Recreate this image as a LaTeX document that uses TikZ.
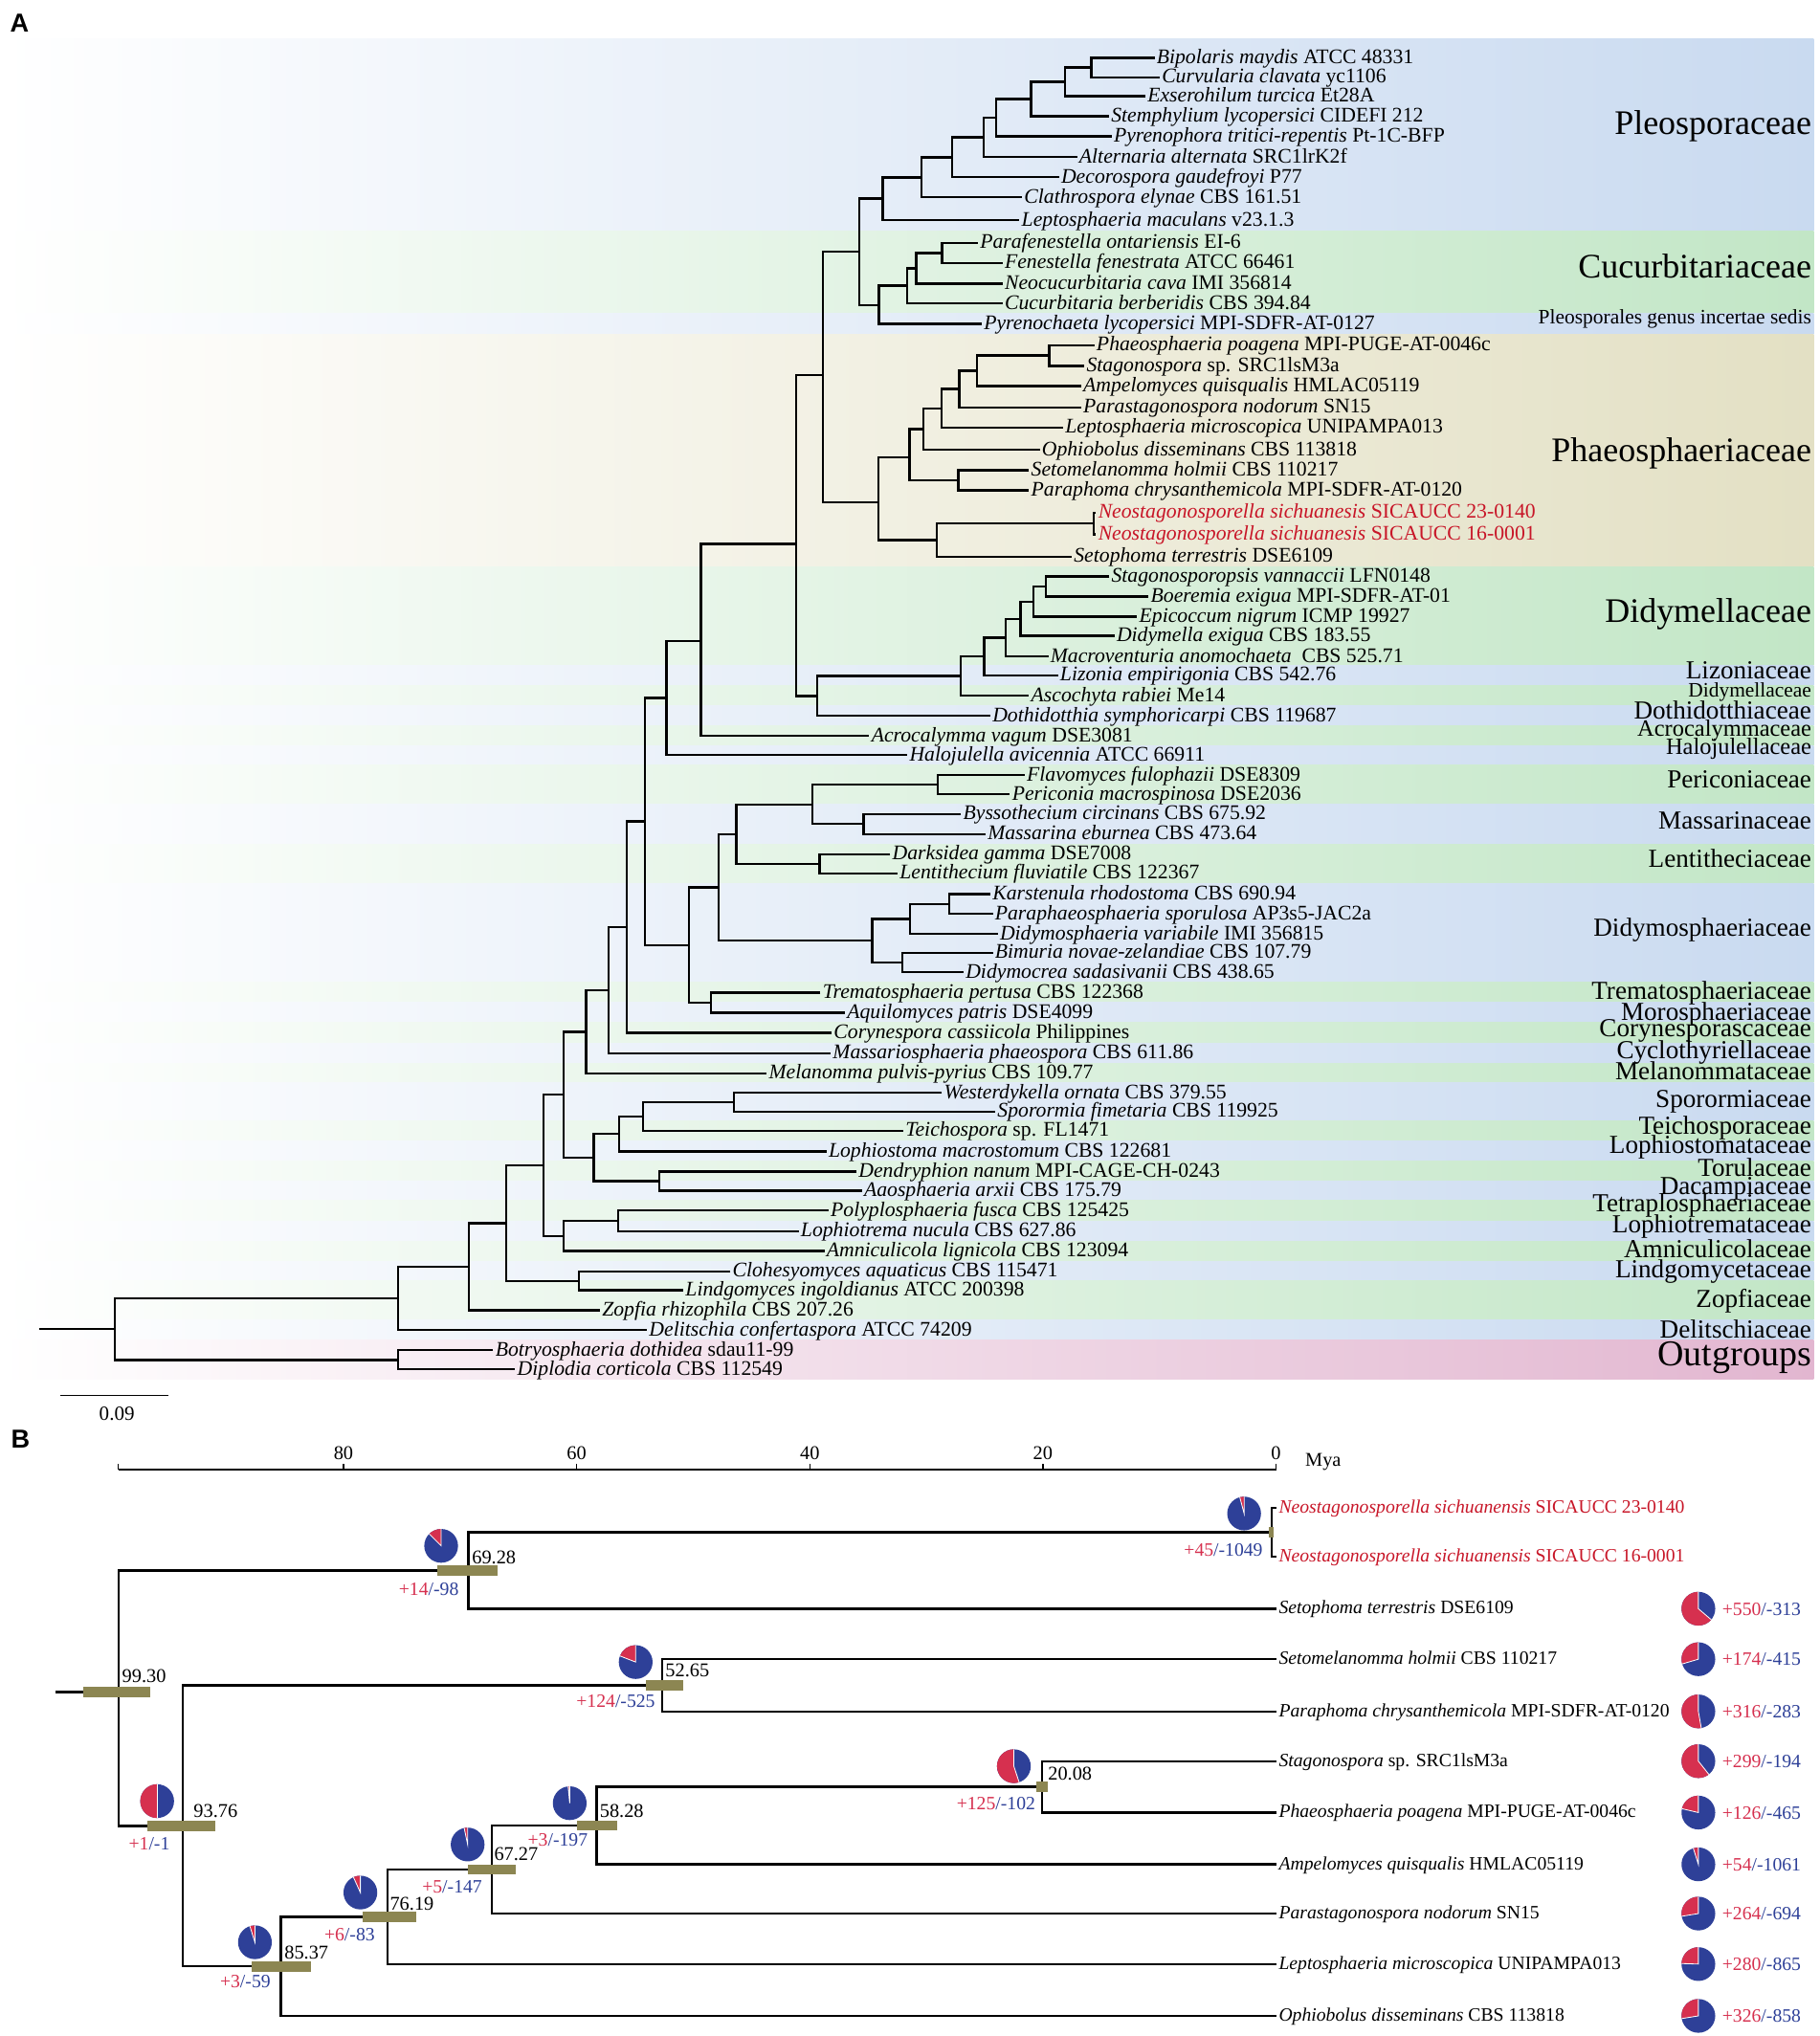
\documentclass[tikz,border=0pt]{standalone}
\usepackage{fontspec}
\setmainfont{Liberation Serif}
\newfontfamily\panelfont{Liberation Sans}
\usepackage{tikz}

\definecolor{bandblue}{RGB}{201,218,240}
\definecolor{bandgreen}{RGB}{194,230,198}
\definecolor{bandtan}{RGB}{227,224,196}
\definecolor{bandpink}{RGB}{226,182,208}
\definecolor{newred}{RGB}{200,22,40}
\definecolor{gainred}{RGB}{214,48,79}
\definecolor{lossblue}{RGB}{46,64,152}
\definecolor{hpdbar}{RGB}{140,134,82}

\newcommand{\spname}[2]{\textit{#1} #2}
\newcommand{\gainloss}[2]{\textcolor{gainred}{+#1}\textcolor{lossblue}{/-#2}}
\newcommand{\band}[3]{\shade[left color=white, right color=#1] (0,#2) rectangle (1396.5,#3);}
\newcommand{\hpd}[3]{\fill[hpdbar] (#1,#3-3.9) rectangle (#2,#3+3.9);}
\newcommand{\piechart}[3]{%
  \pgfmathsetmacro{\gainangle}{360/(#2+#3)*#2}
  \begin{scope}[shift={#1}, y=1pt]
    \fill[lossblue] (0,0) circle (13);
    \fill[gainred] (0,0) -- (90:13) arc[start angle=90, delta angle=\gainangle, radius=13] -- cycle;
    \draw[white, line width=0.6pt] (90:13) -- (0,0) -- (90+\gainangle:13);
  \end{scope}}

\tikzset{
  taxon/.style={anchor=west, inner sep=1.5pt, text height=11pt, text depth=2pt, font=\fontsize{16}{16}\selectfont},
  newtaxon/.style={taxon, text=newred},
  taxonB/.style={anchor=west, inner sep=2pt, text height=10pt, text depth=2pt, font=\fontsize{14.5}{14.5}\selectfont},
  newtaxonB/.style={taxonB, text=newred},
  famlabel/.style={anchor=east, inner sep=0pt, font=\fontsize{20}{20}\selectfont},
  narrowfam/.style={famlabel, font=\fontsize{18}{18}\selectfont},
  bigfam/.style={famlabel, font=\fontsize{26.5}{26.5}\selectfont},
  outfam/.style={famlabel, font=\fontsize{28}{28}\selectfont},
  smallfam/.style={famlabel, font=\fontsize{15.8}{15.8}\selectfont},
  branch/.style={line width=1.7pt},
  agelabel/.style={anchor=base west, inner sep=0pt, font=\fontsize{15}{15}\selectfont},
  glabel/.style={anchor=base east, inner sep=0pt, font=\fontsize{14.5}{14.5}\selectfont},
  tipglabel/.style={anchor=base west, inner sep=0pt, font=\fontsize{14.5}{14.5}\selectfont},
  panel/.style={inner sep=0pt, font=\panelfont\bfseries\fontsize{20}{20}\selectfont}
}

\begin{document}
\begin{tikzpicture}[x=1pt, y=-1pt]
    \fill[white] (0,0) rectangle (1401,1568);
    \useasboundingbox (0,0) rectangle (1401,1568);

    % Family bands
    \band{bandblue}{30}{178.2}
    \band{bandgreen}{178.2}{241.5}
    \band{bandblue}{241.5}{257.6}
    \band{bandtan}{257.6}{436.3}
    \band{bandgreen}{436.3}{512.7}
    \band{bandblue}{512.7}{527.8}
    \band{bandgreen}{527.8}{543.5}
    \band{bandblue}{543.5}{559}
    \band{bandgreen}{559}{574.1}
    \band{bandblue}{574.1}{589.2}
    \band{bandgreen}{589.2}{619.2}
    \band{bandblue}{619.2}{650}
    \band{bandgreen}{650}{680.5}
    \band{bandblue}{680.5}{756.6}
    \band{bandgreen}{756.6}{772.2}
    \band{bandblue}{772.2}{787.6}
    \band{bandgreen}{787.6}{803.2}
    \band{bandblue}{803.2}{818.8}
    \band{bandgreen}{818.8}{834}
    \band{bandblue}{834}{863.4}
    \band{bandgreen}{863.4}{878.8}
    \band{bandblue}{878.8}{894.5}
    \band{bandgreen}{894.5}{909.6}
    \band{bandblue}{909.6}{924.6}
    \band{bandgreen}{924.6}{940.2}
    \band{bandblue}{940.2}{955.8}
    \band{bandgreen}{955.8}{971.2}
    \band{bandblue}{971.2}{986.3}
    \band{bandgreen}{986.3}{1016.8}
    \band{bandblue}{1016.8}{1032.1}
    \band{bandpink}{1032.1}{1062}

    % Family names
    \node[bigfam] (famPleo) at (1395,97) {Pleosporaceae};
    \node[bigfam] (famCucu) at (1395,205) {Cucurbitariaceae};
    \node[smallfam] (famInce) at (1395,245.7) {Pleosporales genus incertae sedis};
    \node[bigfam] (famPhae) at (1395,349.3) {Phaeosphaeriaceae};
    \node[bigfam] (famDidy) at (1395,472.9) {Didymellaceae};
    \node[famlabel] (famLizo) at (1395,516.4) {Lizoniaceae};
    \node[smallfam] (famDidb) at (1395,533) {Didymellaceae};
    \node[famlabel] (famDoth) at (1395,547) {Dothidotthiaceae};
    \node[narrowfam] (famAcro) at (1395,563) {Acrocalymmaceae};
    \node[narrowfam] (famHalo) at (1395,576.7) {Halojulellaceae};
    \node[famlabel] (famPeri) at (1395,600.6) {Periconiaceae};
    \node[famlabel] (famMass) at (1395,631.8) {Massarinaceae};
    \node[famlabel] (famLent) at (1395,660.8) {Lentitheciaceae};
    \node[famlabel] (famDimo) at (1395,716) {Didymosphaeriaceae};
    \node[famlabel] (famTrem) at (1395,764.5) {Trematosphaeriaceae};
    \node[famlabel] (famMoro) at (1395,780.7) {Morosphaeriaceae};
    \node[famlabel] (famCory) at (1395,794.2) {Corynesporascaceae};
    \node[famlabel] (famCycl) at (1395,810.2) {Cyclothyriellaceae};
    \node[famlabel] (famMela) at (1395,824.9) {Melanommataceae};
    \node[famlabel] (famSpor) at (1395,848.7) {Sporormiaceae};
    \node[famlabel] (famTeic) at (1395,868.4) {Teichosporaceae};
    \node[famlabel] (famLoph) at (1395,883.1) {Lophiostomataceae};
    \node[famlabel] (famToru) at (1395,899.1) {Torulaceae};
    \node[famlabel] (famDaca) at (1395,915.1) {Dacampiaceae};
    \node[famlabel] (famTetr) at (1395,928.6) {Tetraplosphaeriaceae};
    \node[famlabel] (famLotr) at (1395,944.5) {Lophiotremataceae};
    \node[famlabel] (famAmni) at (1395,961.7) {Amniculicolaceae};
    \node[famlabel] (famLind) at (1395,979) {Lindgomycetaceae};
    \node[famlabel] (famZopf) at (1395,1002.3) {Zopfiaceae};
    \node[famlabel] (famDeli) at (1395,1023.9) {Delitschiaceae};
    \node[outfam] (famOutg) at (1395,1045.3) {Outgroups};

    \node[panel] (panelA) at (15,17.5) {A};

    % Draw tips (A)
    \node[taxon] (t1) at (889,44.5) {\spname{Bipolaris maydis}{ATCC 48331}};
    \node[taxon] (t2) at (893,59.5) {\spname{Curvularia clavata}{yc1106}};
    \node[taxon] (t3) at (882,74) {\spname{Exserohilum turcica}{Et28A}};
    \node[taxon] (t4) at (854,89.5) {\spname{Stemphylium lycopersici}{CIDEFI 212}};
    \node[taxon] (t5) at (856,105) {\spname{Pyrenophora tritici-repentis}{Pt-1C-BFP}};
    \node[taxon] (t6) at (829.4,121) {\spname{Alternaria alternata}{SRC1lrK2f}};
    \node[taxon] (t7) at (815.5,136.5) {\spname{Decorospora gaudefroyi}{P77}};
    \node[taxon] (t8) at (787,152) {\spname{Clathrospora elynae}{CBS 161.51}};
    \node[taxon] (t9) at (785,169.5) {\spname{Leptosphaeria maculans}{v23.1.3}};
    \node[taxon] (t10) at (753,187) {\spname{Parafenestella ontariensis}{EI-6}};
    \node[taxon] (t11) at (772,202.5) {\spname{Fenestella fenestrata}{ATCC 66461}};
    \node[taxon] (t12) at (772,218.5) {\spname{Neocucurbitaria cava}{IMI 356814}};
    \node[taxon] (t13) at (772,233.5) {\spname{Cucurbitaria berberidis}{CBS 394.84}};
    \node[taxon] (t14) at (756,249.5) {\spname{Pyrenochaeta lycopersici}{MPI-SDFR-AT-0127}};
    \node[taxon] (t15) at (842.7,265.8) {\spname{Phaeosphaeria poagena}{MPI-PUGE-AT-0046c}};
    \node[taxon] (t16) at (835,281.8) {\spname{Stagonospora}{sp. SRC1lsM3a}};
    \node[taxon] (t17) at (832.5,297.3) {\spname{Ampelomyces quisqualis}{HMLAC05119}};
    \node[taxon] (t18) at (832.5,313.7) {\spname{Parastagonospora nodorum}{SN15}};
    \node[taxon] (t19) at (818.7,329.2) {\spname{Leptosphaeria microscopica}{UNIPAMPA013}};
    \node[taxon] (t20) at (800.6,346.4) {\spname{Ophiobolus disseminans}{CBS 113818}};
    \node[taxon] (t21) at (792.4,362.1) {\spname{Setomelanomma holmii}{CBS 110217}};
    \node[taxon] (t22) at (792.4,377.6) {\spname{Paraphoma chrysanthemicola}{MPI-SDFR-AT-0120}};
    \node[newtaxon] (t23) at (844,394.8) {\spname{Neostagonosporella sichuanesis}{SICAUCC 23-0140}};
    \node[newtaxon] (t24) at (844,411.5) {\spname{Neostagonosporella sichuanesis}{SICAUCC 16-0001}};
    \node[taxon] (t25) at (825.3,428.7) {\spname{Setophoma terrestris}{DSE6109}};
    \node[taxon] (t26) at (854.2,443.9) {\spname{Stagonosporopsis vannaccii}{LFN0148}};
    \node[taxon] (t27) at (884.5,459.4) {\spname{Boeremia exigua}{MPI-SDFR-AT-01}};
    \node[taxon] (t28) at (875.6,474.9) {\spname{Epicoccum nigrum}{ICMP 19927}};
    \node[taxon] (t29) at (858.2,489.6) {\spname{Didymella exigua}{CBS 183.55}};
    \node[taxon] (t30) at (807.2,505.4) {\spname{Macroventuria anomochaeta}{\ CBS 525.71}};
    \node[taxon] (t31) at (814.7,520.1) {\spname{Lizonia empirigonia}{CBS 542.76}};
    \node[taxon] (t32) at (792.4,535.6) {\spname{Ascochyta rabiei}{Me14}};
    \node[taxon] (t33) at (762.6,551.4) {\spname{Dothidotthia symphoricarpi}{CBS 119687}};
    \node[taxon] (t34) at (669.4,566.7) {\spname{Acrocalymma vagum}{DSE3081}};
    \node[taxon] (t35) at (698.7,581.6) {\spname{Halojulella avicennia}{ATCC 66911}};
    \node[taxon] (t36) at (789,596.9) {\spname{Flavomyces fulophazii}{DSE8309}};
    \node[taxon] (t37) at (777.7,611.6) {\spname{Periconia macrospinosa}{DSE2036}};
    \node[taxon] (t38) at (740,626.9) {\spname{Byssothecium circinans}{CBS 675.92}};
    \node[taxon] (t39) at (758.9,642.3) {\spname{Massarina eburnea}{CBS 473.64}};
    \node[taxon] (t40) at (685.5,657.8) {\spname{Darksidea gamma}{DSE7008}};
    \node[taxon] (t41) at (691.2,672.6) {\spname{Lentithecium fluviatile}{CBS 122367}};
    \node[taxon] (t42) at (762.6,688.5) {\spname{Karstenula rhodostoma}{CBS 690.94}};
    \node[taxon] (t43) at (764.5,703.8) {\spname{Paraphaeosphaeria sporulosa}{AP3s5-JAC2a}};
    \node[taxon] (t44) at (768.3,719.2) {\spname{Didymosphaeria variabile}{IMI 356815}};
    \node[taxon] (t45) at (764.5,733.7) {\spname{Bimuria novae-zelandiae}{CBS 107.79}};
    \node[taxon] (t46) at (742,748.7) {\spname{Didymocrea sadasivanii}{CBS 438.65}};
    \node[taxon] (t47) at (631.8,764.5) {\spname{Trematosphaeria pertusa}{CBS 122368}};
    \node[taxon] (t48) at (650.6,779.9) {\spname{Aquilomyces patris}{DSE4099}};
    \node[taxon] (t49) at (640.4,795.4) {\spname{Corynespora cassiicola}{Philippines}};
    \node[taxon] (t50) at (639.7,811.1) {\spname{Massariosphaeria phaeospora}{CBS 611.86}};
    \node[taxon] (t51) at (590.4,826.6) {\spname{Melanomma pulvis-pyrius}{CBS 109.77}};
    \node[taxon] (t52) at (725.3,841.4) {\spname{Westerdykella ornata}{CBS 379.55}};
    \node[taxon] (t53) at (766.4,856.1) {\spname{Sporormia fimetaria}{CBS 119925}};
    \node[taxon] (t54) at (695.7,870.8) {\spname{Teichospora}{sp. FL1471}};
    \node[taxon] (t55) at (636.4,886.8) {\spname{Lophiostoma macrostomum}{CBS 122681}};
    \node[taxon] (t56) at (659.5,902.3) {\spname{Dendryphion nanum}{MPI-CAGE-CH-0243}};
    \node[taxon] (t57) at (663.7,917) {\spname{Aaosphaeria arxii}{CBS 175.79}};
    \node[taxon] (t58) at (638,932.3) {\spname{Polyplosphaeria fusca}{CBS 125425}};
    \node[taxon] (t59) at (615,948.2) {\spname{Lophiotrema nucula}{CBS 627.86}};
    \node[taxon] (t60) at (634.8,963.5) {\spname{Amniculicola lignicola}{CBS 123094}};
    \node[taxon] (t61) at (562.4,979) {\spname{Clohesyomyces aquaticus}{CBS 115471}};
    \node[taxon] (t62) at (526.2,993.7) {\spname{Lindgomyces ingoldianus}{ATCC 200398}};
    \node[taxon] (t63) at (462,1009.2) {\spname{Zopfia rhizophila}{CBS 207.26}};
    \node[taxon] (t64) at (498.2,1024.4) {\spname{Delitschia confertaspora}{ATCC 74209}};
    \node[taxon] (t65) at (379.8,1039.9) {\spname{Botryosphaeria dothidea}{sdau11-99}};
    \node[taxon] (t66) at (396.7,1054.6) {\spname{Diplodia corticola}{CBS 112549}};

    % Draw inner nodes (A)
    \coordinate (p1) at (840.4,52);
    \coordinate (p2) at (820.2,63);
    \coordinate (p3) at (793.9,76.2);
    \coordinate (p4) at (766.8,90.6);
    \coordinate (p5) at (757.6,105.8);
    \coordinate (p6) at (732.9,121.2);
    \coordinate (p7) at (709.5,136.6);
    \coordinate (p8) at (679.7,153);
    \coordinate (c1) at (725.5,194.8);
    \coordinate (c2) at (705.5,206.6);
    \coordinate (c3) at (698.4,220);
    \coordinate (c4) at (676.8,234.8);
    \coordinate (pc) at (661.6,193.9);
    \coordinate (f1) at (807.9,273.8);
    \coordinate (f2) at (752.2,285.6);
    \coordinate (f3) at (738.7,299.6);
    \coordinate (f4) at (725,314.4);
    \coordinate (f5) at (710.8,330.4);
    \coordinate (f6) at (738,369.8);
    \coordinate (f7) at (700.3,352);
    \coordinate (f8) at (842.4,403.2);
    \coordinate (f9) at (721.6,416);
    \coordinate (f10) at (676.2,387);
    \coordinate (a1) at (633.8,289);
    \coordinate (d1) at (805.5,451.7);
    \coordinate (d2) at (795.7,463.3);
    \coordinate (d3) at (785.8,476.5);
    \coordinate (d4) at (774.3,491);
    \coordinate (d5) at (757.8,505.6);
    \coordinate (d6) at (739.7,520.6);
    \coordinate (d7) at (629.5,536);
    \coordinate (b613) at (613,419);
    \coordinate (b540) at (539.7,493.5);
    \coordinate (b513) at (513.3,537.5);
    \coordinate (q1) at (722,604.3);
    \coordinate (q2) at (664.9,634.6);
    \coordinate (q3) at (625.4,619.5);
    \coordinate (q4) at (631,665.2);
    \coordinate (q5) at (567.1,642.4);
    \coordinate (q6) at (730.7,696.2);
    \coordinate (q7) at (700.6,707.7);
    \coordinate (q8) at (695,741.2);
    \coordinate (q9) at (671.6,724.5);
    \coordinate (q10) at (553.2,683.5);
    \coordinate (q11) at (547.5,772.2);
    \coordinate (b530) at (530.6,727.9);
    \coordinate (b496) at (496.4,632.6);
    \coordinate (b482) at (482.5,714);
    \coordinate (b468) at (468.6,762.6);
    \coordinate (b451) at (451.2,794.6);
    \coordinate (s1) at (565,848.8);
    \coordinate (s2) at (495,859.8);
    \coordinate (s3) at (476.9,873.3);
    \coordinate (s4) at (507.5,909.7);
    \coordinate (s5) at (457.1,891.5);
    \coordinate (b434) at (434.2,843);
    \coordinate (l1) at (475.9,940.3);
    \coordinate (l2) at (434.1,951.9);
    \coordinate (b418) at (418.3,897.5);
    \coordinate (g1) at (445.6,986.4);
    \coordinate (b390) at (390,942);
    \coordinate (b361) at (361,975.6);
    \coordinate (b306) at (306.4,1000);
    \coordinate (o1) at (306.4,1047.3);
    \coordinate (rootA) at (88.4,1023.6);
    \coordinate (stubA) at (30,1023.6);

    % Draw edges (A)
    \draw[branch] (t1.west) -| (p1) |- (t2.west);
    \draw[branch] (p1) -| (p2) |- (t3.west);
    \draw[branch] (p2) -| (p3) |- (t4.west);
    \draw[branch] (p3) -| (p4) |- (t5.west);
    \draw[branch] (p4) -| (p5) |- (t6.west);
    \draw[branch] (p5) -| (p6) |- (t7.west);
    \draw[branch] (p6) -| (p7) |- (t8.west);
    \draw[branch] (p7) -| (p8) |- (t9.west);
    \draw[branch] (t10.west) -| (c1) |- (t11.west);
    \draw[branch] (c1) -| (c2) |- (t12.west);
    \draw[branch] (c2) -| (c3) |- (t13.west);
    \draw[branch] (c3) -| (c4) |- (t14.west);
    \draw[branch] (p8) -| (pc) |- (c4);
    \draw[branch] (t15.west) -| (f1) |- (t16.west);
    \draw[branch] (f1) -| (f2) |- (t17.west);
    \draw[branch] (f2) -| (f3) |- (t18.west);
    \draw[branch] (f3) -| (f4) |- (t19.west);
    \draw[branch] (f4) -| (f5) |- (t20.west);
    \draw[branch] (t21.west) -| (f6) |- (t22.west);
    \draw[branch] (f5) -| (f7) |- (f6);
    \draw[branch] (t23.west) -| (f8) |- (t24.west);
    \draw[branch] (f8) -| (f9) |- (t25.west);
    \draw[branch] (f7) -| (f10) |- (f9);
    \draw[branch] (pc) -| (a1) |- (f10);
    \draw[branch] (t26.west) -| (d1) |- (t27.west);
    \draw[branch] (d1) -| (d2) |- (t28.west);
    \draw[branch] (d2) -| (d3) |- (t29.west);
    \draw[branch] (d3) -| (d4) |- (t30.west);
    \draw[branch] (d4) -| (d5) |- (t31.west);
    \draw[branch] (d5) -| (d6) |- (t32.west);
    \draw[branch] (d6) -| (d7) |- (t33.west);
    \draw[branch] (a1) -| (b613) |- (d7);
    \draw[branch] (b613) -| (b540) |- (t34.west);
    \draw[branch] (b540) -| (b513) |- (t35.west);
    \draw[branch] (t36.west) -| (q1) |- (t37.west);
    \draw[branch] (t38.west) -| (q2) |- (t39.west);
    \draw[branch] (q1) -| (q3) |- (q2);
    \draw[branch] (t40.west) -| (q4) |- (t41.west);
    \draw[branch] (q3) -| (q5) |- (q4);
    \draw[branch] (t42.west) -| (q6) |- (t43.west);
    \draw[branch] (q6) -| (q7) |- (t44.west);
    \draw[branch] (t45.west) -| (q8) |- (t46.west);
    \draw[branch] (q7) -| (q9) |- (q8);
    \draw[branch] (q5) -| (q10) |- (q9);
    \draw[branch] (t47.west) -| (q11) |- (t48.west);
    \draw[branch] (q10) -| (b530) |- (q11);
    \draw[branch] (b513) -| (b496) |- (b530);
    \draw[branch] (b496) -| (b482) |- (t49.west);
    \draw[branch] (b482) -| (b468) |- (t50.west);
    \draw[branch] (b468) -| (b451) |- (t51.west);
    \draw[branch] (t52.west) -| (s1) |- (t53.west);
    \draw[branch] (s1) -| (s2) |- (t54.west);
    \draw[branch] (s2) -| (s3) |- (t55.west);
    \draw[branch] (t56.west) -| (s4) |- (t57.west);
    \draw[branch] (s3) -| (s5) |- (s4);
    \draw[branch] (b451) -| (b434) |- (s5);
    \draw[branch] (t58.west) -| (l1) |- (t59.west);
    \draw[branch] (l1) -| (l2) |- (t60.west);
    \draw[branch] (b434) -| (b418) |- (l2);
    \draw[branch] (t61.west) -| (g1) |- (t62.west);
    \draw[branch] (b418) -| (b390) |- (g1);
    \draw[branch] (b390) -| (b361) |- (t63.west);
    \draw[branch] (b361) -| (b306) |- (t64.west);
    \draw[branch] (t65.west) -| (o1) |- (t66.west);
    \draw[branch] (b306) -| (rootA) |- (o1);
    \draw[branch] (stubA) -- (rootA);

    % Scale bar
    \coordinate (sbl) at (46.5,1074.8);
    \coordinate (sbr) at (130,1074.8);
    \draw[line width=1.2pt] (sbl) -- (sbr);
    \node[inner sep=0pt, font=\fontsize{15.5}{15.5}\selectfont] (sblabel) at (90,1089) {0.09};

    % Panel B
    \node[panel] (panelB) at (15.8,1108) {B};

    % Time axis
    \draw[line width=1pt] (91.2,1131.9) -- (982.6,1131.9);
    \draw[line width=1pt] (91.2,1131.9) -- ++(0,-4.2);
    \foreach \age in {80,60,40,20,0} {
        \draw[line width=1pt] ({982.6-8.976*\age},1131.9) -- ++(0,-4.2);
        \node[anchor=base, inner sep=0pt, font=\fontsize{15}{15}\selectfont] (tick\age) at ({982.6-8.976*\age},1124) {\age};
    }
    \node[anchor=base west, inner sep=0pt, font=\fontsize{15}{15}\selectfont] (myalabel) at (1005,1129) {Mya};

    % Draw tips (B)
    \node[newtaxonB] (b1) at (982.6,1161.1) {\spname{Neostagonosporella sichuanensis}{SICAUCC 23-0140}};
    \node[newtaxonB] (b2) at (982.6,1199) {\spname{Neostagonosporella sichuanensis}{SICAUCC 16-0001}};
    \node[taxonB] (b3) at (982.6,1238.9) {\spname{Setophoma terrestris}{DSE6109}};
    \node[taxonB] (b4) at (982.6,1277.8) {\spname{Setomelanomma holmii}{CBS 110217}};
    \node[taxonB] (b5) at (982.6,1318) {\spname{Paraphoma chrysanthemicola}{MPI-SDFR-AT-0120}};
    \node[taxonB] (b6) at (982.6,1356.3) {\spname{Stagonospora}{sp. SRC1lsM3a}};
    \node[taxonB] (b7) at (982.6,1395.9) {\spname{Phaeosphaeria poagena}{MPI-PUGE-AT-0046c}};
    \node[taxonB] (b8) at (982.6,1435.8) {\spname{Ampelomyces quisqualis}{HMLAC05119}};
    \node[taxonB] (b9) at (982.6,1473.7) {\spname{Parastagonospora nodorum}{SN15}};
    \node[taxonB] (b10) at (982.6,1512.6) {\spname{Leptosphaeria microscopica}{UNIPAMPA013}};
    \node[taxonB] (b11) at (982.6,1552.5) {\spname{Ophiobolus disseminans}{CBS 113818}};

    % Draw inner nodes (B)
    \coordinate (nNeo) at (979.4,1180);
    \coordinate (n6928) at (360.7,1209.5);
    \coordinate (n5265) at (510,1297.9);
    \coordinate (n2008) at (802.4,1376.1);
    \coordinate (n5828) at (459.4,1406);
    \coordinate (n6727) at (378.7,1439.9);
    \coordinate (n7619) at (298.6,1476.3);
    \coordinate (n8537) at (216.2,1514.4);
    \coordinate (n9376) at (140.9,1406.2);
    \coordinate (n9930) at (91.2,1303);
    \coordinate (stubB) at (42.9,1303);

    % Draw edges (B)
    \draw[branch] (b1.west) -| (nNeo) |- (b2.west);
    \draw[branch] (nNeo) -| (n6928) |- (b3.west);
    \draw[branch] (b4.west) -| (n5265) |- (b5.west);
    \draw[branch] (b6.west) -| (n2008) |- (b7.west);
    \draw[branch] (n2008) -| (n5828) |- (b8.west);
    \draw[branch] (n5828) -| (n6727) |- (b9.west);
    \draw[branch] (n6727) -| (n7619) |- (b10.west);
    \draw[branch] (n7619) -| (n8537) |- (b11.west);
    \draw[branch] (n5265) -| (n9376) |- (n8537);
    \draw[branch] (n6928) -| (n9930) |- (n9376);
    \draw[branch] (stubB) -- (n9930);

    % Age bars
    \hpd{64.1}{115.5}{1303}
    \hpd{337.1}{383.2}{1209.5}
    \hpd{497.3}{525.8}{1297.9}
    \hpd{113.7}{165.6}{1406.2}
    \hpd{194}{239.2}{1514.4}
    \hpd{278.9}{320.4}{1476.3}
    \hpd{360.1}{397.1}{1439.9}
    \hpd{444.5}{475.2}{1406}
    \hpd{797.9}{806.9}{1376.1}
    \hpd{977}{980.8}{1180}

    % Ages
    \node[agelabel] (a9930) at (93.9,1295.8) {99.30};
    \node[agelabel] (a6928) at (363.3,1204) {69.28};
    \node[agelabel] (a5265) at (512.2,1291.6) {52.65};
    \node[agelabel] (a9376) at (149,1399.6) {93.76};
    \node[agelabel] (a8537) at (218.9,1508.9) {85.37};
    \node[agelabel] (a7619) at (300.1,1471) {76.19};
    \node[agelabel] (a6727) at (380.4,1432.7) {67.27};
    \node[agelabel] (a5828) at (461.7,1399.6) {58.28};
    \node[agelabel] (a2008) at (806.9,1371) {20.08};

    % Gains and losses at inner nodes
    \piechart{(339.7,1190.5)}{14}{98}
    \piechart{(489.5,1280)}{124}{525}
    \piechart{(121,1387.1)}{1}{1}
    \piechart{(196.3,1495.8)}{3}{59}
    \piechart{(277.5,1457.5)}{6}{83}
    \piechart{(360.1,1420.5)}{5}{147}
    \piechart{(438.7,1388.7)}{3}{197}
    \piechart{(780.7,1360.2)}{125}{102}
    \piechart{(958,1165.6)}{45}{1049}
    \node[glabel] (g6928) at (353.4,1229) {\gainloss{14}{98}};
    \node[glabel] (g5265) at (504.6,1315) {\gainloss{124}{525}};
    \node[glabel] (g9376) at (130.9,1424.5) {\gainloss{1}{1}};
    \node[glabel] (g8537) at (208.5,1530.6) {\gainloss{3}{59}};
    \node[glabel] (g7619) at (288.8,1495) {\gainloss{6}{83}};
    \node[glabel] (g6727) at (371.4,1457.6) {\gainloss{5}{147}};
    \node[glabel] (g5828) at (452.7,1422) {\gainloss{3}{197}};
    \node[glabel] (g2008) at (797.4,1393.7) {\gainloss{125}{102}};
    \node[glabel] (gNeo) at (972.5,1198.5) {\gainloss{45}{1049}};

    % Gains and losses at tips
    \piechart{(1307.8,1238.9)}{550}{313}
    \piechart{(1307.8,1277.8)}{174}{415}
    \piechart{(1307.8,1318)}{316}{283}
    \piechart{(1307.8,1356.3)}{299}{194}
    \piechart{(1307.8,1395.9)}{126}{465}
    \piechart{(1307.8,1435.8)}{54}{1061}
    \piechart{(1307.8,1473.7)}{264}{694}
    \piechart{(1307.8,1512.6)}{280}{865}
    \piechart{(1307.8,1552.5)}{326}{858}
    \node[tipglabel] (gb3) at (1326,1243.9) {\gainloss{550}{313}};
    \node[tipglabel] (gb4) at (1326,1282.8) {\gainloss{174}{415}};
    \node[tipglabel] (gb5) at (1326,1323) {\gainloss{316}{283}};
    \node[tipglabel] (gb6) at (1326,1361.3) {\gainloss{299}{194}};
    \node[tipglabel] (gb7) at (1326,1400.9) {\gainloss{126}{465}};
    \node[tipglabel] (gb8) at (1326,1440.8) {\gainloss{54}{1061}};
    \node[tipglabel] (gb9) at (1326,1478.7) {\gainloss{264}{694}};
    \node[tipglabel] (gb10) at (1326,1517.6) {\gainloss{280}{865}};
    \node[tipglabel] (gb11) at (1326,1557.5) {\gainloss{326}{858}};
\end{tikzpicture}
\end{document}
